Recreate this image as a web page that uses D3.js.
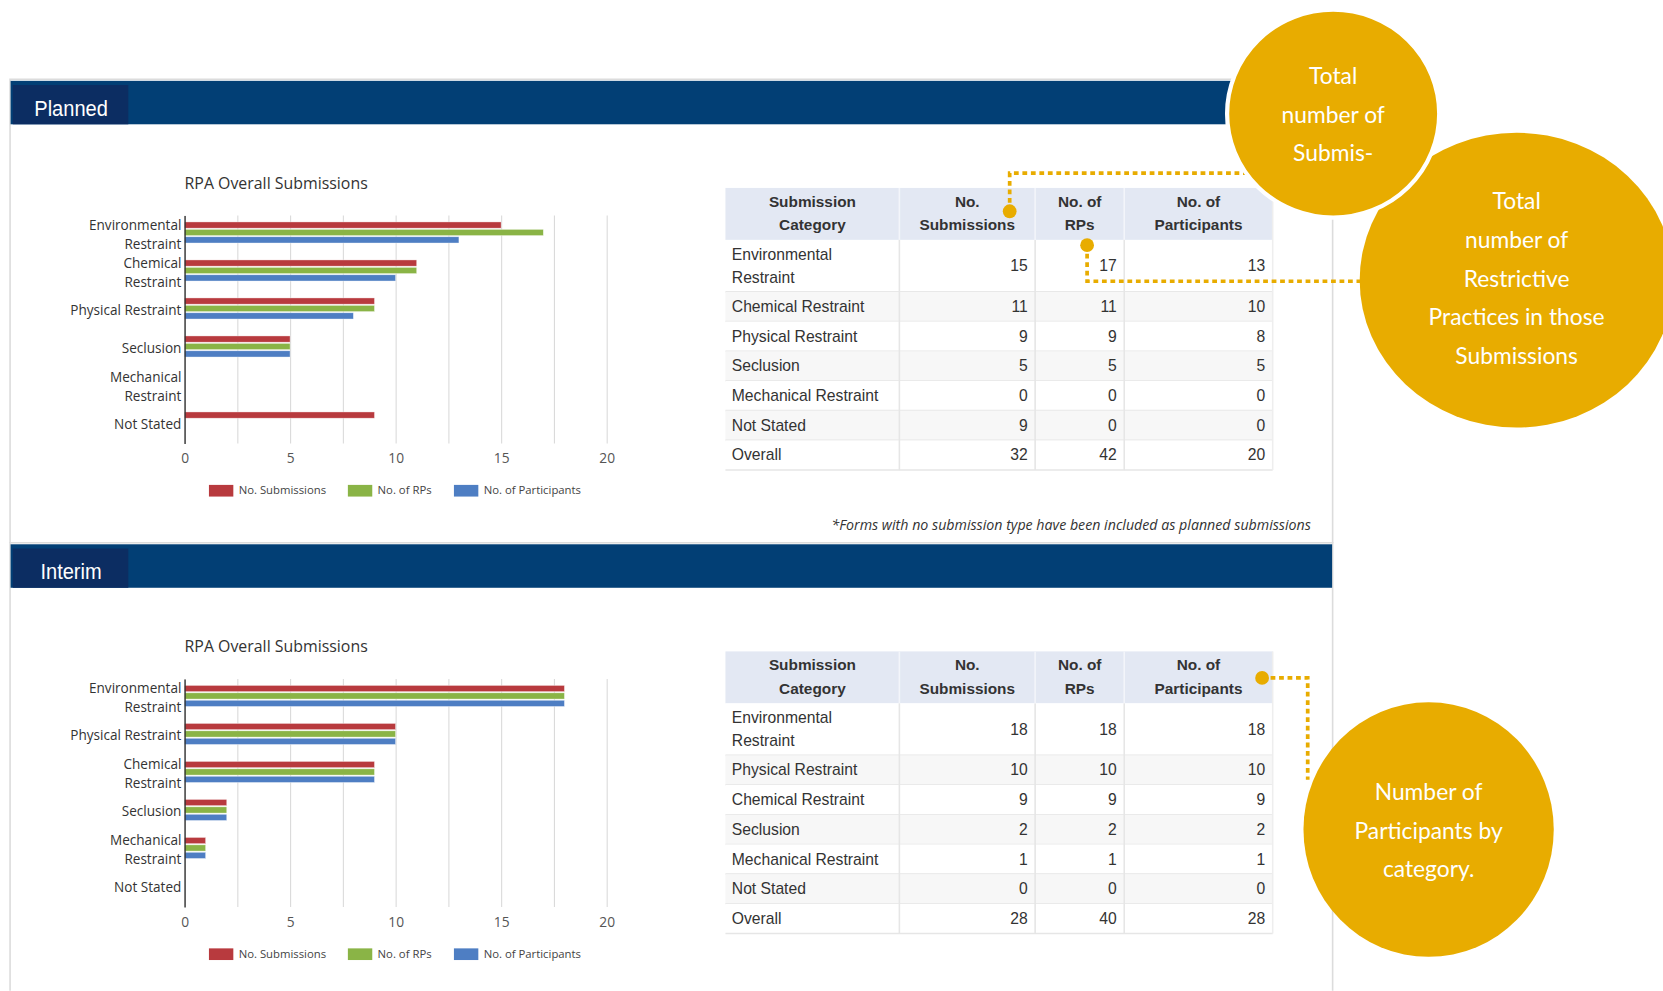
<!DOCTYPE html>
<html>
<head>
<meta charset="utf-8">
<script src="https://cdn.jsdelivr.net/npm/d3@7"></script>
<style>
  html, body { margin: 0; padding: 0; background: #fff; }
  svg { display: block; }
</style>
</head>
<body>
<svg id="chart"></svg>
<script>
// data
const plannedCategories = ["Environmental Restraint", "Chemical Restraint", "Physical Restraint", "Seclusion", "Mechanical Restraint", "Not Stated"];
const plannedSubmissions = [15, 11, 9, 5, 0, 9];
const plannedRPs = [17, 11, 9, 5, 0, 0];
const plannedParticipants = [13, 10, 8, 5, 0, 0];
const plannedOverall = [32, 42, 20];

const interimCategories = ["Environmental Restraint", "Physical Restraint", "Chemical Restraint", "Seclusion", "Mechanical Restraint", "Not Stated"];
const interimSubmissions = [18, 10, 9, 2, 1, 0];
const interimRPs = [18, 10, 9, 2, 1, 0];
const interimParticipants = [18, 10, 9, 2, 1, 0];
const interimOverall = [28, 40, 28];

const seriesNames = ["No. Submissions", "No. of RPs", "No. of Participants"];
const xTicks = [0, 5, 10, 15, 20];
const tableHeaders = [["Submission", "Category"], ["No.", "Submissions"], ["No. of", "RPs"], ["No. of", "Participants"]];
const chartTitle = "RPA Overall Submissions";
const footnote = "*Forms with no submission type have been included as planned submissions";
const bubble1Lines = ["Total", "number of", "Submis-"];
const bubble2Lines = ["Total", "number of", "Restrictive", "Practices in those", "Submissions"];
const bubble3Lines = ["Number of", "Participants by", "category."];

// colours
const colors = ["#b83a3e", "#8ab446", "#4e7ec3"];
const gold = "#e8ac00";
const navy = "#023f75";
const navyTab = "#0c2d62";

// picture is laid out in 1568x934 units and scaled up to the window
const W = 1568, H = 934;
const svg = d3.select("#chart")
    .attr("width", 1663)
    .attr("height", 991)
    .attr("viewBox", `0 0 ${W} ${H}`);

const chartFont = "'Open Sans', 'Noto Sans', sans-serif";
const tableFont = "'Liberation Sans', Arial, sans-serif";
const wrapChart = ["Environmental Restraint", "Chemical Restraint", "Mechanical Restraint"];

const colX = [684, 848, 976, 1060, 1200];

function drawPanel(oy, bottom, name, cats, series, overall, withFoot) {
    const g = svg.append("g");

    // frame
    g.append("path")
        .attr("d", `M9.5,${bottom} V${oy - 1.5} H1256.5 V${bottom}`)
        .attr("fill", "none").attr("stroke", "#dcdcdc").attr("stroke-width", 1.5);

    // header bar and tab
    g.append("rect").attr("x", 10).attr("y", oy).attr("width", 1246).attr("height", 41).attr("fill", navy);
    g.append("rect").attr("x", 12).attr("y", oy + 4).attr("width", 109).attr("height", 37).attr("fill", navyTab);
    g.append("text")
        .attr("transform", `translate(67,${oy + 33}) scale(0.88,1)`)
        .attr("text-anchor", "middle")
        .attr("fill", "#fff")
        .style("font-family", "'Liberation Sans', Arial, sans-serif")
        .style("font-size", "21.5px")
        .text(name);

    // chart
    const top = oy + 127, bot = oy + 342;
    const x = d3.scaleLinear().domain([0, 20]).range([174, 572]);
    const y = d3.scaleBand().domain(cats).range([top, bot]);
    const inner = d3.scaleBand().domain(d3.range(3)).range([5.5, 26.5]).paddingInner(0.16).paddingOuter(0.08);

    g.append("text").attr("x", 174).attr("y", oy + 102)
        .attr("fill", "#333")
        .style("font-family", chartFont).style("font-size", "15px")
        .text(chartTitle);

    // grid
    g.append("g")
        .attr("transform", `translate(0,${bot})`)
        .call(d3.axisBottom(x).tickValues(d3.range(0, 20.01, 2.5)).tickSize(-(bot - top)).tickFormat(""))
        .call(a => a.select(".domain").remove())
        .call(a => a.selectAll("line").attr("stroke", "#d9d9d9"));

    // bars
    series.forEach((vals, si) => {
        g.append("g").selectAll("rect")
            .data(cats.map((c, i) => ({ c, v: vals[i] })))
            .join("rect")
            .attr("x", x(0))
            .attr("y", d => y(d.c) + inner(si))
            .attr("width", d => x(d.v) - x(0))
            .attr("height", inner.bandwidth())
            .attr("fill", colors[si])
            .attr("stroke", d => d.v > 0 ? "rgba(255,255,255,0.6)" : "none")
            .attr("stroke-width", 0.6);
    });

    // x axis
    g.append("g")
        .attr("transform", `translate(0,${bot})`)
        .call(d3.axisBottom(x).tickValues(xTicks).tickSize(0).tickPadding(9.5))
        .call(a => a.select(".domain").remove())
        .call(a => a.selectAll("text").attr("fill", "#555").style("font-family", chartFont).style("font-size", "13px"));

    // y axis
    g.append("g")
        .attr("transform", "translate(174,0)")
        .call(d3.axisLeft(y).tickSize(0).tickPadding(3))
        .call(a => a.select(".domain").attr("stroke", "#333").attr("stroke-width", 1.3))
        .call(a => a.selectAll("text")
            .attr("fill", "#333")
            .style("font-family", chartFont).style("font-size", "12.8px")
            .each(function (d) {
                if (!wrapChart.includes(d)) return;
                const t = d3.select(this);
                const words = d.split(" ");
                t.text(null);
                t.append("tspan").attr("x", -3).attr("dy", "-0.35em").text(words[0]);
                t.append("tspan").attr("x", -3).attr("dy", "1.4em").text(words.slice(1).join(" "));
            }));

    // legend
    const legendX = [197, 328, 428];
    const lg = g.append("g");
    seriesNames.forEach((n, i) => {
        lg.append("rect").attr("x", legendX[i]).attr("y", oy + 381).attr("width", 23).attr("height", 11).attr("fill", colors[i]);
        lg.append("text").attr("x", legendX[i] + 28).attr("y", oy + 390)
            .attr("fill", "#444")
            .style("font-family", chartFont).style("font-size", "10.7px")
            .text(n);
    });

    // table
    const headTop = oy + 101, headBot = oy + 150;
    const rows = cats.map((c, i) => ({ label: c, vals: [series[0][i], series[1][i], series[2][i]] }));
    rows.push({ label: "Overall", vals: overall });
    const rowH = rows.map(r => r.label === "Environmental Restraint" ? 49 : 28);
    const rowY = [];
    rows.reduce((acc, r, i) => { rowY.push(acc); return acc + rowH[i]; }, headBot);
    const tableBottom = rowY[rows.length - 1] + rowH[rows.length - 1];

    const tg = g.append("g").style("font-family", tableFont);
    tg.append("rect").attr("x", colX[0]).attr("y", headTop).attr("width", colX[4] - colX[0]).attr("height", headBot - headTop).attr("fill", "#e3e8f3");
    rows.forEach((r, i) => {
        tg.append("rect").attr("x", colX[0]).attr("y", rowY[i]).attr("width", colX[4] - colX[0]).attr("height", rowH[i])
            .attr("fill", i % 2 === 1 ? "#f7f7f7" : "#fff");
        tg.append("line").attr("x1", colX[0]).attr("x2", colX[4]).attr("y1", rowY[i] + rowH[i]).attr("y2", rowY[i] + rowH[i])
            .attr("stroke", "#e6e6e6").attr("stroke-width", 1.5);
    });
    colX.slice(1, 4).forEach(cx => {
        tg.append("line").attr("x1", cx).attr("x2", cx).attr("y1", headTop).attr("y2", headBot).attr("stroke", "#f3f5fa").attr("stroke-width", 1.5);
        tg.append("line").attr("x1", cx).attr("x2", cx).attr("y1", headBot).attr("y2", tableBottom).attr("stroke", "#e6e6e6").attr("stroke-width", 1.5);
    });
    tg.append("line").attr("x1", colX[4]).attr("x2", colX[4]).attr("y1", headTop).attr("y2", tableBottom).attr("stroke", "#eeeeee").attr("stroke-width", 1.5);

    tableHeaders.forEach((h, i) => {
        const t = tg.append("text").attr("text-anchor", "middle").attr("fill", "#333")
            .style("font-weight", "bold").style("font-size", "14.5px");
        h.forEach((line, j) => {
            t.append("tspan").attr("x", (colX[i] + colX[i + 1]) / 2).attr("y", headTop + 18 + j * 22).text(line);
        });
    });

    rows.forEach((r, i) => {
        const mid = rowY[i] + rowH[i] / 2 + 5;
        const t = tg.append("text").attr("x", 690).attr("fill", "#333").style("font-size", "14.8px");
        if (rowH[i] > 30) {
            const words = r.label.split(" ");
            t.append("tspan").attr("x", 690).attr("y", mid - 11).text(words[0]);
            t.append("tspan").attr("x", 690).attr("y", mid + 11).text(words.slice(1).join(" "));
        } else {
            t.attr("y", mid).text(r.label);
        }
        r.vals.forEach((v, k) => {
            tg.append("text").attr("x", colX[k + 2] - 7).attr("y", mid)
                .attr("text-anchor", "end").attr("fill", "#333").style("font-size", "14.8px")
                .text(v);
        });
    });

    if (withFoot) {
        g.append("text").attr("x", 1236).attr("y", oy + 424)
            .attr("text-anchor", "end").attr("fill", "#333")
            .style("font-family", chartFont).style("font-style", "italic").style("font-size", "13.4px")
            .text(footnote);
    }
    return { headTop, headBot };
}

const p1 = drawPanel(76, 512, "Planned", plannedCategories,
    [plannedSubmissions, plannedRPs, plannedParticipants], plannedOverall, true);
const p2 = drawPanel(513, 934, "Interim", interimCategories,
    [interimSubmissions, interimRPs, interimParticipants], interimOverall, false);

// callout bubbles
function bubble(cx, cy, rx, ry, lines, firstY, stroke) {
    svg.append("ellipse").attr("cx", cx).attr("cy", cy).attr("rx", rx).attr("ry", ry)
        .attr("fill", gold).attr("stroke", stroke ? "#fff" : "none").attr("stroke-width", 4);
    const t = svg.append("text").attr("text-anchor", "middle").attr("fill", "#fff")
        .style("font-family", "Lato, 'Open Sans', sans-serif").style("font-size", "21.5px");
    lines.forEach((l, i) => t.append("tspan").attr("x", cx).attr("y", firstY + i * 36.5).text(l));
}

const dash = { stroke: gold, "stroke-width": 3.5, "stroke-dasharray": "4.5,3.5", fill: "none" };
function connector(d) {
    const p = svg.append("path").attr("d", d);
    Object.entries(dash).forEach(([k, v]) => p.attr(k, v));
}

// connectors for planned table
const dot1 = [colX[2] - 24, p1.headTop + 22];
const dot2 = [colX[2] + 49, p1.headBot + 5];
connector(`M${dot1[0]},${dot1[1]} V${p1.headTop - 14} H1180`);
connector(`M${dot2[0]},${dot2[1]} V${p1.headBot + 39} H1290`);
// connector for interim table
const dot3 = [colX[4] - 10, p2.headTop + 25];
connector(`M${dot3[0]},${dot3[1]} H1233 V735`);

[dot1, dot2, dot3].forEach(d => svg.append("circle").attr("cx", d[0]).attr("cy", d[1]).attr("r", 6.5).attr("fill", gold));

bubble(1430, 264, 148, 139, bubble2Lines, 197, false);
bubble(1257, 107, 100, 98, bubble1Lines, 79, true);
bubble(1347, 782, 118, 120, bubble3Lines, 754, false);
</script>
</body>
</html>
